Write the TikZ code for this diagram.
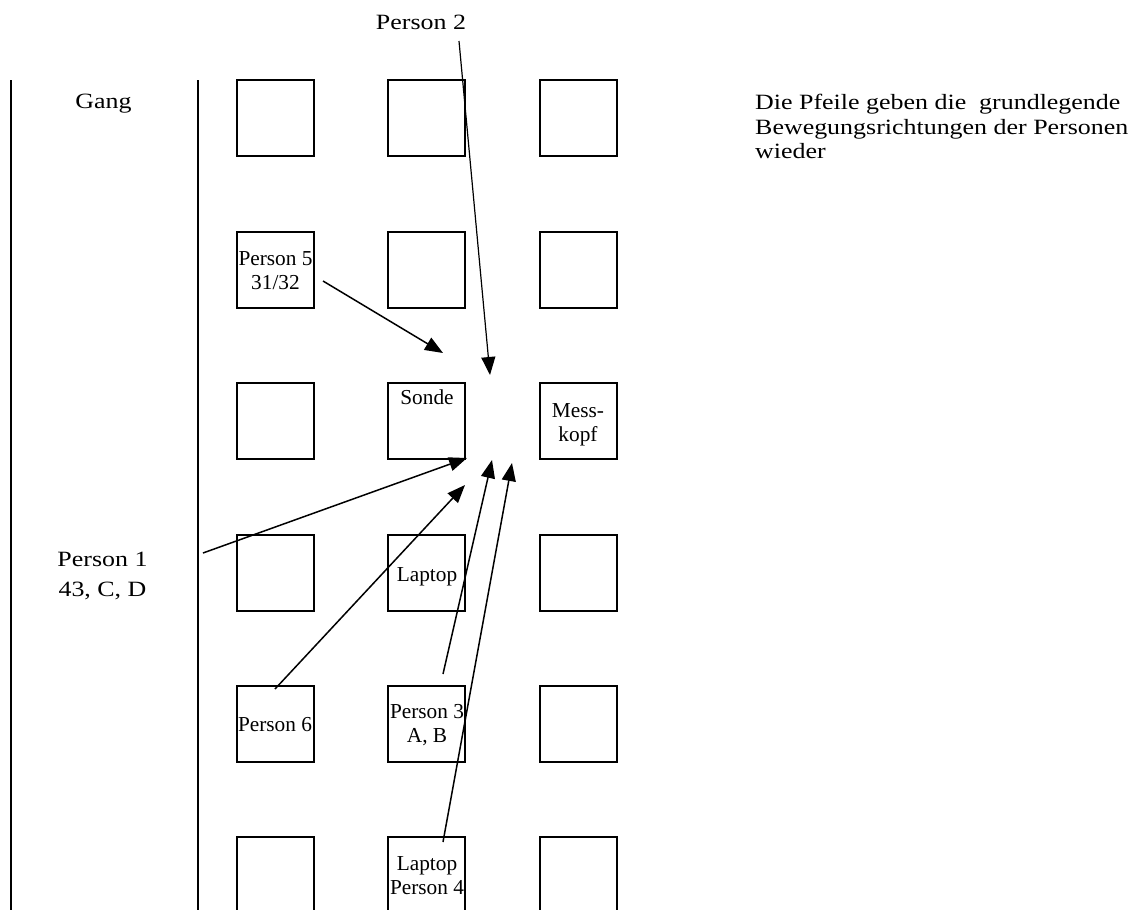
\documentclass[tikz,border=0pt]{standalone}
\usepackage{fontspec}
\setmainfont{Liberation Serif}
\newfontfamily\widefont{Liberation Serif}[FakeStretch=1.19]
\usetikzlibrary{arrows.meta}
\begin{document}
\begin{tikzpicture}[x=1bp,y=-1bp,
  seat/.style={draw,line width=1.8bp,minimum width=77bp,minimum height=76bp,inner sep=0pt},
  lbl/.style={inner sep=0pt,anchor=base,font=\fontsize{21.3bp}{24bp}\selectfont},
  outer/.style={inner sep=0pt,font=\widefont\fontsize{21.8bp}{24.5bp}\selectfont},
  wall/.style={line width=1.8bp},
  walk/.style={line width=1.5bp,-{Triangle[length=18bp,width=14bp]}}]
\useasboundingbox (0,0) rectangle (1139,910);
% corridor walls
\coordinate (w1t) at (11,80); \coordinate (w1b) at (11,910);
\coordinate (w2t) at (198,80); \coordinate (w2b) at (198,910);
\draw[wall] (w1t) -- (w1b);
\draw[wall] (w2t) -- (w2b);
% seats rows 1-5
\foreach \r/\y in {1/118,2/270,3/421,4/573,5/724}{
  \node[seat] (s\r a) at (275.5,\y) {};
  \node[seat] (s\r b) at (426.5,\y) {};
  \node[seat] (s\r c) at (578.5,\y) {};
}
% bottom row (cut off)
\foreach \c/\xa/\xb in {a/237/314,b/388/465,c/540/617}{
  \coordinate (b\c1) at (\xa,910); \coordinate (b\c2) at (\xa,837);
  \coordinate (b\c3) at (\xb,837); \coordinate (b\c4) at (\xb,910);
  \draw[wall] (b\c1) -- (b\c2) -- (b\c3) -- (b\c4);
}
% outer texts
\node[outer,anchor=base] (p2) at (421,29) {Person 2};
\node[outer,anchor=base] (gang) at (103.5,108) {Gang};
\node[outer,anchor=base] (p1a) at (102.5,566) {Person 1};
\node[outer,anchor=base] (p1b) at (102.5,596) {43, C, D};
\node[outer,anchor=base west] (rt1) at (755,109) {Die Pfeile geben die~~grundlegende};
\node[outer,anchor=base west] (rt2) at (755,134) {Bewegungsrichtungen der Personen};
\node[outer,anchor=base west] (rt3) at (755,158) {wieder};
% seat labels
\node[lbl] (l5a) at (275.5,265) {Person 5};
\node[lbl] (l5b) at (275.5,289) {31/32};
\node[lbl] (son) at (427,404) {Sonde};
\node[lbl] (mk1) at (578,417) {Mess-};
\node[lbl] (mk2) at (578,441) {kopf};
\node[lbl] (lap) at (427,581) {Laptop};
\node[lbl] (l6) at (275,731) {Person 6};
\node[lbl] (l3a) at (427,718) {Person 3};
\node[lbl] (l3b) at (427,742) {A, B};
\node[lbl] (l4a) at (427,870) {Laptop};
\node[lbl] (l4b) at (427,894) {Person 4};
% arrow ends
\coordinate (a2s) at (459,41);  \coordinate (a2e) at (490,375);
\coordinate (a5s) at (323,281); \coordinate (a5e) at (443,353);
\coordinate (a1s) at (203,553); \coordinate (a1e) at (467,458);
\coordinate (a6s) at (275,689); \coordinate (a6e) at (465,485);
\coordinate (a3s) at (443,674); \coordinate (a3e) at (492,460);
\coordinate (a4s) at (443,842); \coordinate (a4e) at (512,463);
\draw[walk,line width=1.2bp] (a2s) -- (a2e);
\draw[walk] (a5s) -- (a5e);
\draw[walk] (a1s) -- (a1e);
\draw[walk] (a6s) -- (a6e);
\draw[walk] (a3s) -- (a3e);
\draw[walk] (a4s) -- (a4e);
\end{tikzpicture}
\end{document}
